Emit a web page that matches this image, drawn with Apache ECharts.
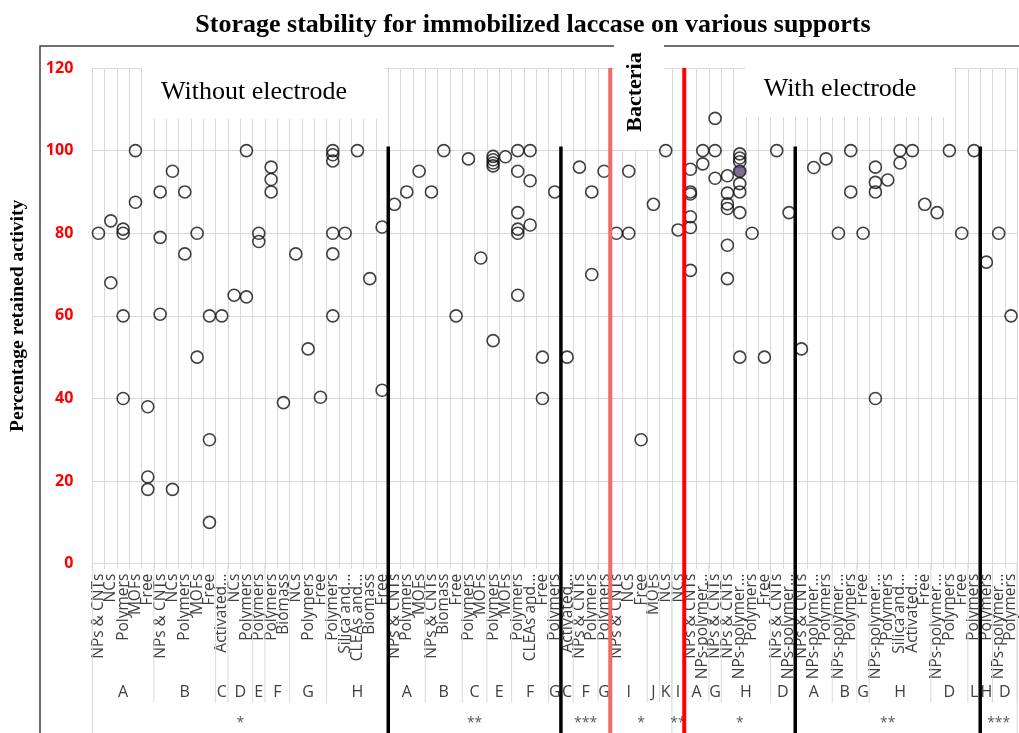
<!DOCTYPE html>
<html><head><meta charset="utf-8">
<script src="https://cdn.jsdelivr.net/npm/echarts@6/dist/echarts.min.js"></script>
<style>html,body{margin:0;padding:0;background:#fff}#c{width:1019px;height:733px}</style>
</head><body><div id="c"></div>
<script>
// ---- DATA ----
const categories = [
  'NPs & CNTs','NCs','Polymers','MOFs','Free',
  'NPs & CNTs','NCs','Polymers','MOFs','Free',
  'Activated...',
  'NCs','Polymers',
  'Polymers',
  'Polymers','Biomass',
  'NCs','Polymers','Free',
  'Polymers','Silica and...','CLEAs and...','Biomass','Free',
  'NPs & CNTs','Polymers','MOFs',
  'NPs & CNTs','Biomass','Free',
  'Polymers','MOFs',
  'Polymers','MOFs',
  'Polymers','CLEAs and...','Free',
  'Polymers',
  'Activated...',
  'NPs & CNTs','Polymers',
  'Polymers',
  'NPs & CNTs','NCs','Free',
  'MOFs',
  'NCs',
  'NCs',
  'NPs & CNTs','NPs-polymer...',
  'NPs & CNTs',
  'NPs & CNTs','NPs-polymer...','Polymers','Free',
  'NPs & CNTs','NPs-polymer...',
  'NPs & CNTs','NPs-polymer...','Polymers',
  'NPs-polymer...','Polymers',
  'Free',
  'NPs-polymer...','Polymers','Silica and...','Activated...','Free',
  'NPs-polymer...','Polymers','Free',
  'Polymers',
  'Polymers',
  'NPs-polymer...','Polymers'
];
const level2Groups = [
  ['A',5],['B',5],['C',1],['D',2],['E',1],['F',2],['G',3],['H',5],
  ['A',3],['B',3],['C',2],['E',2],['F',3],['G',1],
  ['C',1],['F',2],['G',1],
  ['I',3],['J',1],['K',1],
  ['I',1],
  ['A',2],['G',1],['H',4],['D',2],
  ['A',3],['B',2],['G',1],['H',5],['D',3],['L',1],
  ['H',1],['D',2]
];
const level3Groups = [['*',24],['**',14],['***',4],['*',5],['**',1],['*',9],['**',15],['***',3]];
const dividerKinds = ['support','support','bacteria','none','electrode','support','support'];
const retained = [
  [80],[83,68],[81,80,60,40],[100,87.5],[38,21,18],
  [90,79,60.4],[95,18],[90,75],[80,50],[60,30,10],
  [60],
  [65],[100,64.6],
  [80,78],
  [96,93,90],[39],
  [75],[52],[40.3],
  [100,99,97.5,80,75,60],[80],[100],[69],[81.5,42],
  [87],[90],[95],
  [90],[100],[60],
  [98],[74],
  [98.6,97.8,97,96.3,54],[98.5],
  [100,95,85,81,80,65],[100,92.7,82],[50,40],
  [90],
  [50],
  [96],[90,70],
  [95],
  [80],[95,80],[30],
  [87],
  [100],
  [80.8],
  [95.5,90,89.5,84,81.4,71],[100,96.8],
  [107.8,100,93.3],
  [93.9,89.7,87.1,86,77.1,69],[99.2,98.2,97.3,92,90,85,50],[80],[50],
  [100],[85],
  [52],[95.9],[98],
  [80],[100,90],
  [80],
  [96,92.3,90,40],[92.9],[100,97],[100],[87],
  [85],[100],[80],
  [100],
  [73],
  [80],[60]
];
const highlighted = [[52,95]];
const yMin = 0, yMax = 120, yStep = 20;

// ---- BUILD ----
const points = [];
retained.forEach((vals,i)=>vals.forEach(v=>points.push([i,v])));

function spans(groups){
  const out=[]; let s=0;
  groups.forEach(g=>{ out.push([s,0,s+g[1]-1]); s+=g[1]; });
  return out;
}
const l2Data = spans(level2Groups);
const l3Data = spans(level3Groups);
const divData = l3Data.slice(0,-1).map((d,k)=>[d[2],0,k]);

function bandOf(api,i){ return api.coord([i+1,0])[0]-api.coord([i,0])[0]; }

const styleOf = {
  support:{stroke:'#000',lineWidth:3.5,topValue:101},
  bacteria:{stroke:'#f26a66',lineWidth:4,topValue:120},
  electrode:{stroke:'#ff0000',lineWidth:4,topValue:120},
  none:null
};

const chart = echarts.init(document.getElementById('c'));
chart.setOption({
  animation:false,
  backgroundColor:'#fff',
  grid:{left:92.3, top:68, width:932.25, height:495.7, containLabel:false},
  xAxis:{
    type:'category', data:categories, boundaryGap:true,
    axisLine:{show:true,lineStyle:{color:'#d9d9d9'}},
    axisTick:{show:true,interval:0,length:5,lineStyle:{color:'#d9d9d9'}},
    splitLine:{show:true,interval:0,lineStyle:{color:'#d9d9d9',width:1}},
    axisLabel:{interval:0,rotate:90,margin:10,fontFamily:'Open Sans',fontSize:15.5,color:'#404040'}
  },
  yAxis:{
    type:'value', min:yMin, max:yMax, interval:yStep,
    axisLine:{show:false}, axisTick:{show:false},
    splitLine:{lineStyle:{color:'#d9d9d9',width:1}},
    axisLabel:{margin:19,fontFamily:'Open Sans',fontWeight:'bold',fontSize:16,color:'#ff0000'},
    name:'Percentage retained activity', nameLocation:'middle', nameGap:64, nameRotate:90,
    nameTextStyle:{fontFamily:'Liberation Serif',fontWeight:'bold',fontSize:19.5,color:'#000'}
  },
  graphic:[
    {type:'text', x:533, y:25, z:10, style:{text:'Storage stability for immobilized laccase on various supports', align:'center', verticalAlign:'middle', font:'bold 26px "Liberation Serif"', fill:'#000'}},
    {type:'polyline', z:10, shape:{points:[[40,733],[40,46],[1019,46]]}, style:{stroke:'#404040',lineWidth:1.5,fill:null}},
    {type:'rect', z:11, shape:{x:142,y:67,width:243,height:52}, style:{fill:'#fff'}},
    {type:'text', x:254, y:92, z:12, style:{text:'Without electrode', align:'center', verticalAlign:'middle', font:'26px "Liberation Serif"', fill:'#000'}},
    {type:'rect', z:11, shape:{x:745,y:67,width:208,height:50}, style:{fill:'#fff'}},
    {type:'text', x:840, y:89, z:12, style:{text:'With electrode', align:'center', verticalAlign:'middle', font:'26px "Liberation Serif"', fill:'#000'}},
    {type:'rect', z:11, shape:{x:614,y:38,width:50,height:112}, style:{fill:'#fff'}},
    {type:'text', x:635, y:92, z:12, rotation:Math.PI/2, style:{text:'Bacteria', align:'center', verticalAlign:'middle', font:'bold 22px "Liberation Serif"', fill:'#000'}}
  ],
  series:[
    {type:'scatter', data:points, symbol:'circle', symbolSize:12, z:20, silent:true,
     itemStyle:{color:'rgba(255,255,255,0)',borderColor:'#111',borderWidth:1.6}},
    {type:'scatter', data:highlighted, symbol:'circle', symbolSize:12, z:21, silent:true,
     itemStyle:{color:'#5d4a7e',borderColor:'#111',borderWidth:1.6}},
    {type:'custom', z:15, silent:true, clip:false, data:l2Data, encode:{x:0,y:1},
     renderItem:function(params,api){
       const s=api.value(0), e=api.value(2);
       const b=bandOf(api,s);
       const p0=api.coord([s,0]), p1=api.coord([e,0]);
       const xl=p0[0]-b/2, xr=p1[0]+b/2, yb=p0[1];
       return {type:'group',children:[
         {type:'line',shape:{x1:xr,y1:yb,x2:xr,y2:yb+139},style:{stroke:'#d9d9d9',lineWidth:1}},
         {type:'text',style:{text:level2Groups[params.dataIndex][0],x:(xl+xr)/2,y:yb+129,align:'center',verticalAlign:'middle',font:'16px "Open Sans"',fill:'#404040'}}
       ]};
     }},
    {type:'custom', z:15, silent:true, clip:false, data:l3Data, encode:{x:0,y:1},
     renderItem:function(params,api){
       const s=api.value(0), e=api.value(2);
       const b=bandOf(api,s);
       const p0=api.coord([s,0]), p1=api.coord([e,0]);
       const xl=p0[0]-b/2, xr=p1[0]+b/2, yb=p0[1], H=api.getHeight();
       const ch=[
         {type:'line',shape:{x1:xr,y1:yb,x2:xr,y2:H},style:{stroke:'#d9d9d9',lineWidth:1}},
         {type:'text',style:{text:level3Groups[params.dataIndex][0],x:(xl+xr)/2,y:yb+159,align:'center',verticalAlign:'middle',font:'14px "Open Sans"',fill:'#595959'}}
       ];
       if(params.dataIndex===0) ch.push({type:'line',shape:{x1:xl,y1:yb,x2:xl,y2:H},style:{stroke:'#d9d9d9',lineWidth:1}});
       return {type:'group',children:ch};
     }},
    {type:'custom', z:30, silent:true, clip:false, data:divData, encode:{x:0,y:1},
     renderItem:function(params,api){
       const st=styleOf[dividerKinds[api.value(2)]];
       if(!st) return null;
       const e=api.value(0);
       const b=bandOf(api,e);
       const x=api.coord([e,0])[0]+b/2;
       const yt=api.coord([e,st.topValue])[1];
       return {type:'line',shape:{x1:x,y1:yt,x2:x,y2:api.getHeight()},style:{stroke:st.stroke,lineWidth:st.lineWidth}};
     }}
  ]
});
</script></body></html>
